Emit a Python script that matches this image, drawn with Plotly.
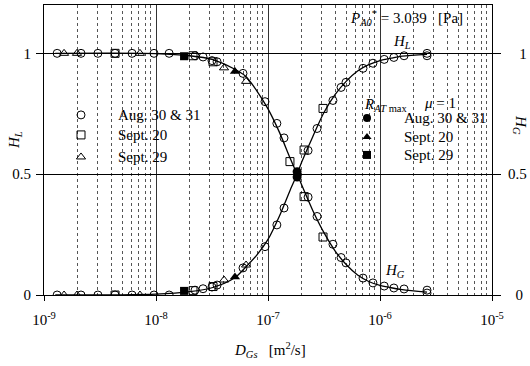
import plotly.graph_objects as go

# ---------------- data ----------------
# Aug. 30 & 31 (open circles)
aug_D = [1.31e-9, 2.14e-9, 3.03e-9, 4.31e-9, 6.11e-9, 9.60e-9, 1.31e-8, 2.23e-8, 2.63e-8,
         3.16e-8, 3.51e-8, 5.98e-8, 9.40e-8, 1.20e-7, 1.39e-7, 2.28e-7, 2.74e-7, 3.80e-7,
         4.49e-7, 4.97e-7, 7.05e-7, 8.65e-7, 1.09e-6, 1.33e-6, 1.64e-6, 2.63e-6, 2.63e-6]
aug_HG = [1.0, 1.0, 1.0, 1.0, 1.0, 1.0, 1.0, 0.99, 0.985, 0.97, 0.965, 0.917, 0.80, 0.71,
          0.65, 0.405, 0.325, 0.21, 0.155, 0.133, 0.07, 0.05, 0.037, 0.029, 0.025, 0.02, 0.008]
aug_HL = [0.0, 0.0, 0.0, 0.0, 0.0, 0.0, 0.0, 0.02, 0.026, 0.033, 0.041, 0.112, 0.20, 0.29,
          0.36, 0.598, 0.689, 0.805, 0.859, 0.88, 0.938, 0.959, 0.975, 0.983, 0.99, 0.99, 1.0]

# Sept. 20 (open squares)
s20_D = [4.31e-9, 2.14e-8, 3.23e-8, 1.57e-7, 2.10e-7, 3.10e-7]
s20_HG = [1.0, 0.99, 0.965, 0.552, 0.407, 0.24]
s20_HL = [0.0, 0.018, 0.035, None, 0.60, 0.772]

# Sept. 29 (open triangles)
s29_D = [1.51e-9, 1.97e-9, 7.19e-9, 4.05e-8, 6.37e-8]
s29_HG = [1.0, 1.0, 1.0, 0.94, 0.884]
s29_HL = [0.0, 0.0, 0.0, 0.062, 0.124]

# R_AT max, mu = 1 (filled markers)
rmax_aug_D, rmax_aug_HG, rmax_aug_HL = [1.82e-7], [0.51], [0.488]
rmax_s20_D, rmax_s20_HG, rmax_s20_HL = [5.07e-8], [0.925], [0.075]
rmax_s29_D, rmax_s29_HG, rmax_s29_HL = [1.78e-8], [0.988], [0.017]

# model curves
curve_D = [1.26e-9, 1.0e-8, 2.0e-8, 3.16e-8, 5.01e-8, 6.31e-8, 7.94e-8, 1.0e-7, 1.26e-7,
           1.58e-7, 1.82e-7, 2.0e-7, 2.51e-7, 3.16e-7, 3.98e-7, 5.01e-7, 6.31e-7, 7.94e-7,
           1.0e-6, 1.26e-6, 1.58e-6, 2.63e-6]
curve_HG = [1.0, 0.999, 0.99, 0.975, 0.935, 0.905, 0.845, 0.77, 0.675, 0.565, 0.5, 0.455,
            0.35, 0.258, 0.182, 0.125, 0.083, 0.056, 0.04, 0.03, 0.022, 0.012]
curve_HL = [0.0, 0.004, 0.014, 0.03, 0.07, 0.115, 0.165, 0.23, 0.325, 0.435, 0.5, 0.55,
            0.655, 0.755, 0.83, 0.885, 0.927, 0.953, 0.97, 0.98, 0.988, 0.996]

x_tickvals = [1e-9, 1e-8, 1e-7, 1e-6, 1e-5]
x_ticktext = ["10<sup>-9</sup>", "10<sup>-8</sup>", "10<sup>-7</sup>", "10<sup>-6</sup>", "10<sup>-5</sup>"]
y_tickvals = [0, 0.5, 1]
y_ticktext = ["0", "0.5", "1"]
y2_ticktext = ["\u20070", "0.5", "\u2007\u20081"]

legend_open = ["Aug. 30 & 31", "Sept. 20", "Sept. 29"]
legend_filled = ["Aug. 30 & 31", "Sept. 20", "Sept. 29"]

# ---------------- figure ----------------
FONT = "Liberation Serif"
BLACK = "black"
fig = go.Figure()

line_style = dict(color=BLACK, width=1.3, shape="spline", smoothing=0.8)
fig.add_trace(go.Scatter(x=curve_D, y=curve_HL, mode="lines", line=line_style,
                         hoverinfo="skip", showlegend=False))
fig.add_trace(go.Scatter(x=curve_D, y=curve_HG, mode="lines", line=line_style,
                         hoverinfo="skip", showlegend=False, yaxis="y2"))

def pts(x, y, symbol, yaxis="y", size=8):
    open_sym = symbol.endswith("-open")
    fig.add_trace(go.Scatter(
        x=x, y=y, mode="markers", yaxis=yaxis, showlegend=False,
        marker=dict(symbol=symbol, size=size, color=BLACK,
                    line=dict(color=BLACK, width=1 if open_sym else 0))))

for yax, a, b, c in [("y", aug_HL, s20_HL, s29_HL), ("y2", aug_HG, s20_HG, s29_HG)]:
    pts(aug_D, a, "circle-open", yax, 8)
    pts(s20_D, b, "square-open", yax, 8)
    pts(s29_D, c, "triangle-up-open", yax, 8)

pts(rmax_aug_D, rmax_aug_HL, "circle", "y", 9)
pts(rmax_aug_D, rmax_aug_HG, "circle", "y2", 9)
pts(rmax_s20_D, rmax_s20_HL, "triangle-up", "y", 9)
pts(rmax_s20_D, rmax_s20_HG, "triangle-up", "y2", 9)
pts(rmax_s29_D, rmax_s29_HL, "square", "y", 8)
pts(rmax_s29_D, rmax_s29_HG, "square", "y2", 8)

# legend markers on an overlay axis in [0,1] plot-area units
leg_open_v = [0.621, 0.552, 0.476]
leg_fill_v = [0.610, 0.545, 0.483]
for v, s in zip(leg_open_v, ["circle-open", "square-open", "triangle-up-open"]):
    fig.add_trace(go.Scatter(x=[0.0826], y=[v], mode="markers", xaxis="x3", yaxis="y3",
                             showlegend=False, hoverinfo="skip",
                             marker=dict(symbol=s, size=8, color=BLACK, line=dict(color=BLACK, width=1))))
for v, s in zip(leg_fill_v, ["circle", "triangle-up", "square"]):
    fig.add_trace(go.Scatter(x=[0.721], y=[v], mode="markers", xaxis="x3", yaxis="y3",
                             showlegend=False, hoverinfo="skip",
                             marker=dict(symbol=s, size=8, color=BLACK)))

ann = []
def txt(x, y, t, size=15, xanchor="left", angle=0):
    ann.append(dict(x=x, y=y, xref="paper", yref="paper", text=t, showarrow=False,
                    xanchor=xanchor, yanchor="middle", textangle=angle,
                    font=dict(family=FONT, size=size, color=BLACK)))

for v, t in zip(leg_open_v, legend_open):
    txt(0.161, v, t)
for v, t in zip(leg_fill_v, legend_filled):
    txt(0.800, v, t)
txt(0.710, 0.655, "<i>R</i><sub><i>AT</i> max</sub>")
txt(0.844, 0.662, "<i>μ</i> = 1")
txt(0.679, 0.955, "<i>P</i><sub><i>A0</i></sub><sup>*</sup> = 3.039\u00a0\u00a0\u00a0[Pa]")
txt(0.799, 0.872, "<i>H</i><sub><i>L</i></sub>", xanchor="center")
txt(0.783, 0.083, "<i>H</i><sub><i>G</i></sub>", xanchor="center")
txt(-0.065, 0.534, "<i>H</i><sub><i>L</i></sub>", xanchor="center", angle=-90)
txt(1.0625, 0.586, "<i>H</i><sub><i>G</i></sub>", xanchor="center", angle=90)
txt(0.504, -0.19, "<i>D</i><sub><i>Gs</i></sub>\u00a0\u00a0\u00a0[m<sup>2</sup>/s]", xanchor="center")

tickfont = dict(family=FONT, size=15, color=BLACK)
fig.update_layout(
    width=530, height=366,
    margin=dict(l=44, r=38, t=5, b=71, autoexpand=False),
    paper_bgcolor="white", plot_bgcolor="white",
    showlegend=False,
    annotations=ann,
    xaxis=dict(type="log", range=[-9, -5], tickvals=x_tickvals, ticktext=x_ticktext,
               tickfont=tickfont, ticks="outside", ticklen=5, tickcolor=BLACK,
               showline=True, linecolor=BLACK, linewidth=1, mirror=True, automargin=False,
               showgrid=True, gridcolor="#333", gridwidth=1,
               minor=dict(dtick="D1", showgrid=True, gridcolor="#555", griddash="dot",
                          gridwidth=1, ticks=""),
               ticklabelstandoff=6, zeroline=False),
    yaxis=dict(range=[0, 1.2], tickvals=y_tickvals, ticktext=y_ticktext, tickfont=tickfont,
               ticks="outside", ticklen=7, tickcolor=BLACK, showline=True, linecolor=BLACK,
               linewidth=1, showgrid=True, gridcolor=BLACK, gridwidth=1, zeroline=False,
               ticklabelstandoff=2, automargin=False),
    yaxis2=dict(range=[0, 1.2], overlaying="y", side="right", tickvals=y_tickvals,
                ticktext=y2_ticktext, tickfont=tickfont, ticks="outside", ticklen=8,
                tickcolor=BLACK, showline=True, linecolor=BLACK, linewidth=1,
                showgrid=False, zeroline=False, ticklabelstandoff=4, automargin=False),
    xaxis3=dict(overlaying="x", range=[0, 1], visible=False, anchor="y3", automargin=False),
    yaxis3=dict(overlaying="y", range=[0, 1], visible=False, anchor="x3", automargin=False),
)

fig.write_html("out.html", config={"displayModeBar": False},
               post_script="document.body.style.margin='0';document.body.style.padding='0';")
